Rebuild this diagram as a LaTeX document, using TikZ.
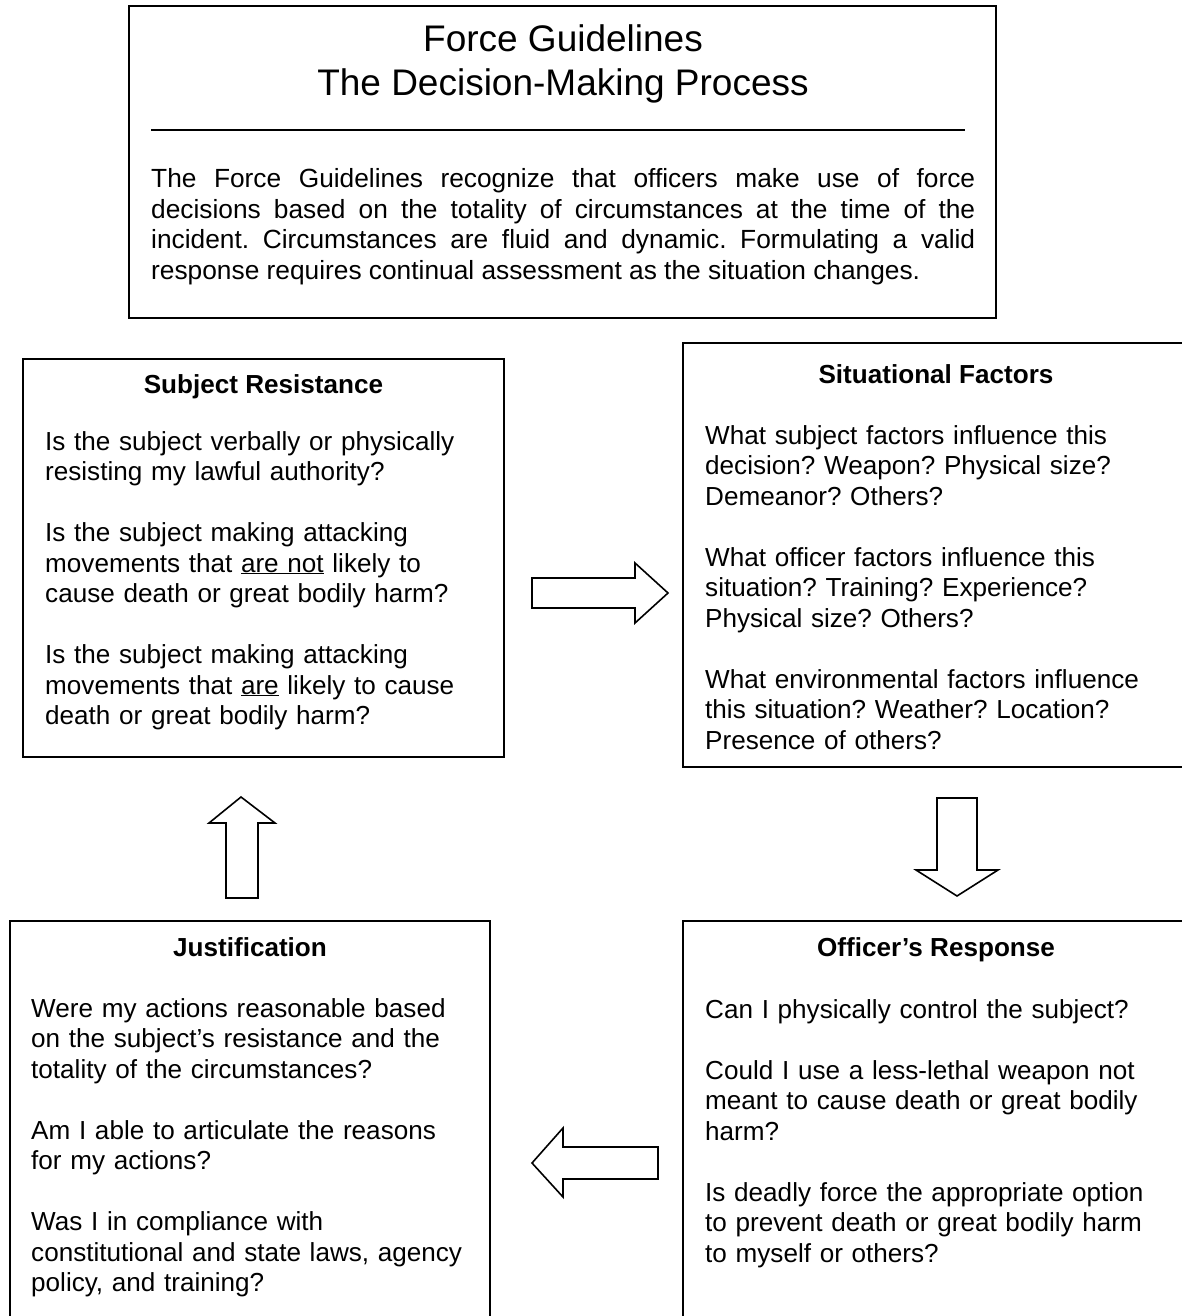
\documentclass[tikz,border=0pt]{standalone}
\usepackage{fontspec}
\setmainfont{Liberation Sans}
\frenchspacing
\tikzset{
  frame/.style={draw=black, line width=2pt, inner sep=0pt, outer sep=0pt, anchor=north west},
  bodytext/.style={anchor=base west, inner sep=0pt, text width=470pt, align=left, font=\fontsize{26.1}{30.5}\selectfont},
  headtext/.style={anchor=base, inner sep=0pt, font=\fontsize{26.1}{30.5}\selectfont\bfseries},
  titletext/.style={anchor=base, inner sep=0pt, font=\fontsize{37}{44}\selectfont},
  blockarrow/.style={draw=black, line width=1.6pt, fill=white, line join=miter},
}
\begin{document}
\begin{tikzpicture}[x=1pt, y=-1pt]
\useasboundingbox (0,0) rectangle (1182,1316);
\clip (0,0) rectangle (1182,1316);

% boxes
\node[frame, minimum width=867pt, minimum height=312pt] (top) at (129,6) {};
\node[frame, minimum width=481pt, minimum height=398pt] (sr) at (23,359) {};
\node[frame, minimum width=512pt, minimum height=424pt] (sf) at (683,343) {};
\node[frame, minimum width=480pt, minimum height=430pt] (ju) at (10,921) {};
\node[frame, minimum width=512pt, minimum height=430pt] (or) at (683,921) {};

% top box
\node[titletext] (t1) at (563,52) {Force Guidelines};
\node[titletext] (t2) at (563,96) {The Decision-Making Process};
\coordinate (ulA) at (151,130);
\coordinate (ulB) at (965,130);
\draw[line width=1.4pt] (ulA) -- (ulB);
\node[anchor=base west, inner sep=0pt, text width=824pt, align=justify,
      font=\fontsize{26.3}{30.5}\selectfont] (intro) at (151,188)
  {The Force Guidelines recognize that officers make use of force\linebreak
   decisions based on the totality of circumstances at the time of the\linebreak
   incident. Circumstances are fluid and dynamic. Formulating a valid\linebreak
   response requires continual assessment as the situation changes.};

% subject resistance
\node[headtext] (srh) at (263.5,393) {Subject Resistance};
\node[bodytext] (srb) at (45,450) {Is the subject verbally or physically\\resisting my lawful authority?\\[30.5pt]Is the subject making attacking\\movements that \underline{are not} likely to\\cause death or great bodily harm?\\[30.5pt]Is the subject making attacking\\movements that \underline{are} likely to cause\\death or great bodily harm?};

% situational factors
\node[headtext] (sfh) at (936,383) {Situational Factors};
\node[bodytext] (sfb) at (705,444) {What subject factors influence this\\decision? Weapon? Physical size?\\Demeanor? Others?\\[30.5pt]What officer factors influence this\\situation? Training? Experience?\\Physical size? Others?\\[30.5pt]What environmental factors influence\\this situation? Weather? Location?\\Presence of others?};

% justification
\node[headtext] (juh) at (250,956) {Justification};
\node[bodytext] (jub) at (31,1017) {Were my actions reasonable based\\on the subject’s resistance and the\\totality of the circumstances?\\[30.5pt]Am I able to articulate the reasons\\for my actions?\\[30.5pt]Was I in compliance with\\constitutional and state laws, agency\\policy, and training?};

% officer's response
\node[headtext] (orh) at (936,956) {Officer’s Response};
\node[bodytext] (orb) at (705,1018) {Can I physically control the subject?\\[30.5pt]Could I use a less-lethal weapon not\\meant to cause death or great bodily\\harm?\\[30.5pt]Is deadly force the appropriate option\\to prevent death or great bodily harm\\to myself or others?};

% block arrows
\draw[blockarrow] (532,578) -- (635,578) -- (635,563) -- (668,593) -- (635,623) -- (635,608) -- (532,608) -- cycle;
\draw[blockarrow] (937,798) -- (977,798) -- (977,870) -- (998,870) -- (957,896) -- (916,870) -- (937,870) -- cycle;
\draw[blockarrow] (226,898) -- (226,823) -- (209,823) -- (241,797) -- (275,823) -- (258,823) -- (258,898) -- cycle;
\draw[blockarrow] (658,1147) -- (563,1147) -- (563,1128) -- (532,1163) -- (563,1197) -- (563,1179) -- (658,1179) -- cycle;
\end{tikzpicture}
\end{document}
